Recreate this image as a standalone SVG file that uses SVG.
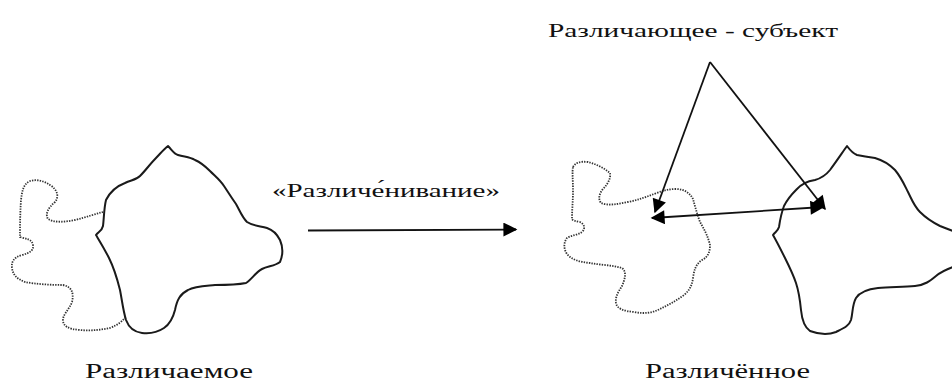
<svg xmlns="http://www.w3.org/2000/svg" width="952" height="383" viewBox="0 0 952 383">
<style>
.solid{fill:none;stroke:#1a1a1a;stroke-width:2;stroke-linejoin:round}
.dot{fill:none;stroke:#333;stroke-width:1.8;stroke-dasharray:1.4 1.2}
.conn{fill:none;stroke:#111;stroke-width:1.8}
.lbl{font-family:"Liberation Serif","DejaVu Serif",serif;fill:#111}
</style>
<defs>
<marker id="ahb" viewBox="0 0 10 10" refX="9" refY="5" markerWidth="17" markerHeight="14" orient="auto-start-reverse" markerUnits="userSpaceOnUse">
<path d="M0,0 L10,5 L0,10 z" fill="#000"/>
</marker>
</defs>
<rect width="952" height="383" fill="#fff"/>
<g id="razlichaemoe">
<path class="dot" d="M103,212 C95,214 87,217 75,220 C65,222 55,223 48,219 C45,214 48,208 55,202 C59,197 58,190 50,185 C44,181 37,179 30,181 C23,184 22,192 21,200 C20,215 20,228 20,237 C26,239 32,239 33,245 C34,250 30,253 22,255 C14,257 11,262 12,268 C13,275 17,279 25,282 C35,284 50,285 63,285 C72,287 74,293 72,302 C69,310 63,314 63,320 C63,326 68,329 80,330 C90,331 100,330 110,328 C118,325 122,321 125,318"/>
<path class="solid" d="M168,146 C172,150 174,154 178,155 C185,157 190,157 195,160 C202,163 206,167 210,171 C216,177 220,180 224,186 C228,192 231,197 236,204 C240,211 242,217 247,222 C253,226 260,226 267,228 C273,230 277,234 280,240 C283,247 283,255 280,262 C275,266 268,266 262,269 C256,272 252,279 246,283 C236,285 226,285 215,285 C204,286 195,286 188,290 C180,294 177,300 175,310 C173,318 170,324 164,328 C158,332 150,334 142,333 C134,332 129,328 126,320 C123,310 122,300 120,290 C117,278 114,268 109,258 C104,248 99,240 96,235 C98,232 102,231 103,226 C104,218 104,208 106,200 C110,192 117,186 125,183 C131,180 136,180 140,176 C146,170 150,164 156,158 C160,154 164,149 168,146 Z"/>
</g>
<g id="razlichennoe">
<path class="dot" d="M573,167 C575,163 580,161 588,162 C596,164 604,168 610,173 C611,178 608,184 603,189 C599,194 598,199 601,203 C608,206 618,204 628,202 C638,200 646,197 654,194 C662,191 668,189 676,189 C684,189 690,193 693,199 C695,206 697,214 700,222 C704,229 708,236 710,245 C710,252 708,257 702,260 C696,264 694,270 693,278 C692,285 690,290 684,295 C676,301 668,305 660,309 C652,313 644,314 634,312 C624,311 617,309 616,303 C615,296 619,291 622,286 C625,279 627,272 622,268 C612,265 600,265 590,263 C580,262 572,260 567,254 C563,248 564,242 567,238 C572,235 578,235 582,232 C586,228 584,224 580,222 C576,221 573,221 572,219 C572,210 573,200 573,190 C573,180 572,172 573,167"/>
<path class="solid" d="M847,146 C850,150 852,153 857,155 C862,156 868,157 875,158 C882,160 888,163 895,170 C901,177 904,184 908,192 C912,200 914,206 920,212 C926,218 932,222 940,226 C945,228 950,230 956,232 L956,266 C947,269 942,271 936,276 C930,281 925,285 915,286 C903,287 890,287 878,288 C868,289 860,292 856,298 C852,305 853,313 851,320 C849,326 844,328 836,332 C828,335 818,334 810,331 C804,327 802,320 801,310 C800,300 799,292 796,283 C793,274 789,266 785,258 C781,250 777,242 773,235 C775,232 778,231 779,227 C780,220 781,214 784,206 C787,200 791,195 796,190 C801,184 808,181 815,180 C822,178 826,175 830,170 C836,162 842,153 847,146 Z"/>
</g>
<g id="connectors">
<line class="conn" x1="308" y1="230.5" x2="516" y2="229.5" marker-end="url(#ahb)"/>
<line class="conn" x1="710" y1="62" x2="655" y2="212" marker-end="url(#ahb)"/>
<line class="conn" x1="710" y1="62" x2="825" y2="209" marker-end="url(#ahb)"/>
<line class="conn" x1="652" y1="218" x2="823" y2="207" marker-start="url(#ahb)" marker-end="url(#ahb)"/>
</g>
<g id="label-process">
<text class="lbl" x="386" y="197" font-size="18" text-anchor="middle" textLength="228" lengthAdjust="spacingAndGlyphs">«Различе́нивание»</text>
</g>
<g id="label-subject">
<text class="lbl" x="548" y="37" font-size="18" textLength="290" lengthAdjust="spacingAndGlyphs">Различающее - субъект</text>
</g>
<g id="label-left">
<text class="lbl" x="85" y="378" font-size="20" textLength="168" lengthAdjust="spacingAndGlyphs">Различаемое</text>
</g>
<g id="label-right">
<text class="lbl" x="645" y="378" font-size="20" textLength="165" lengthAdjust="spacingAndGlyphs">Различённое</text>
</g>
</svg>
